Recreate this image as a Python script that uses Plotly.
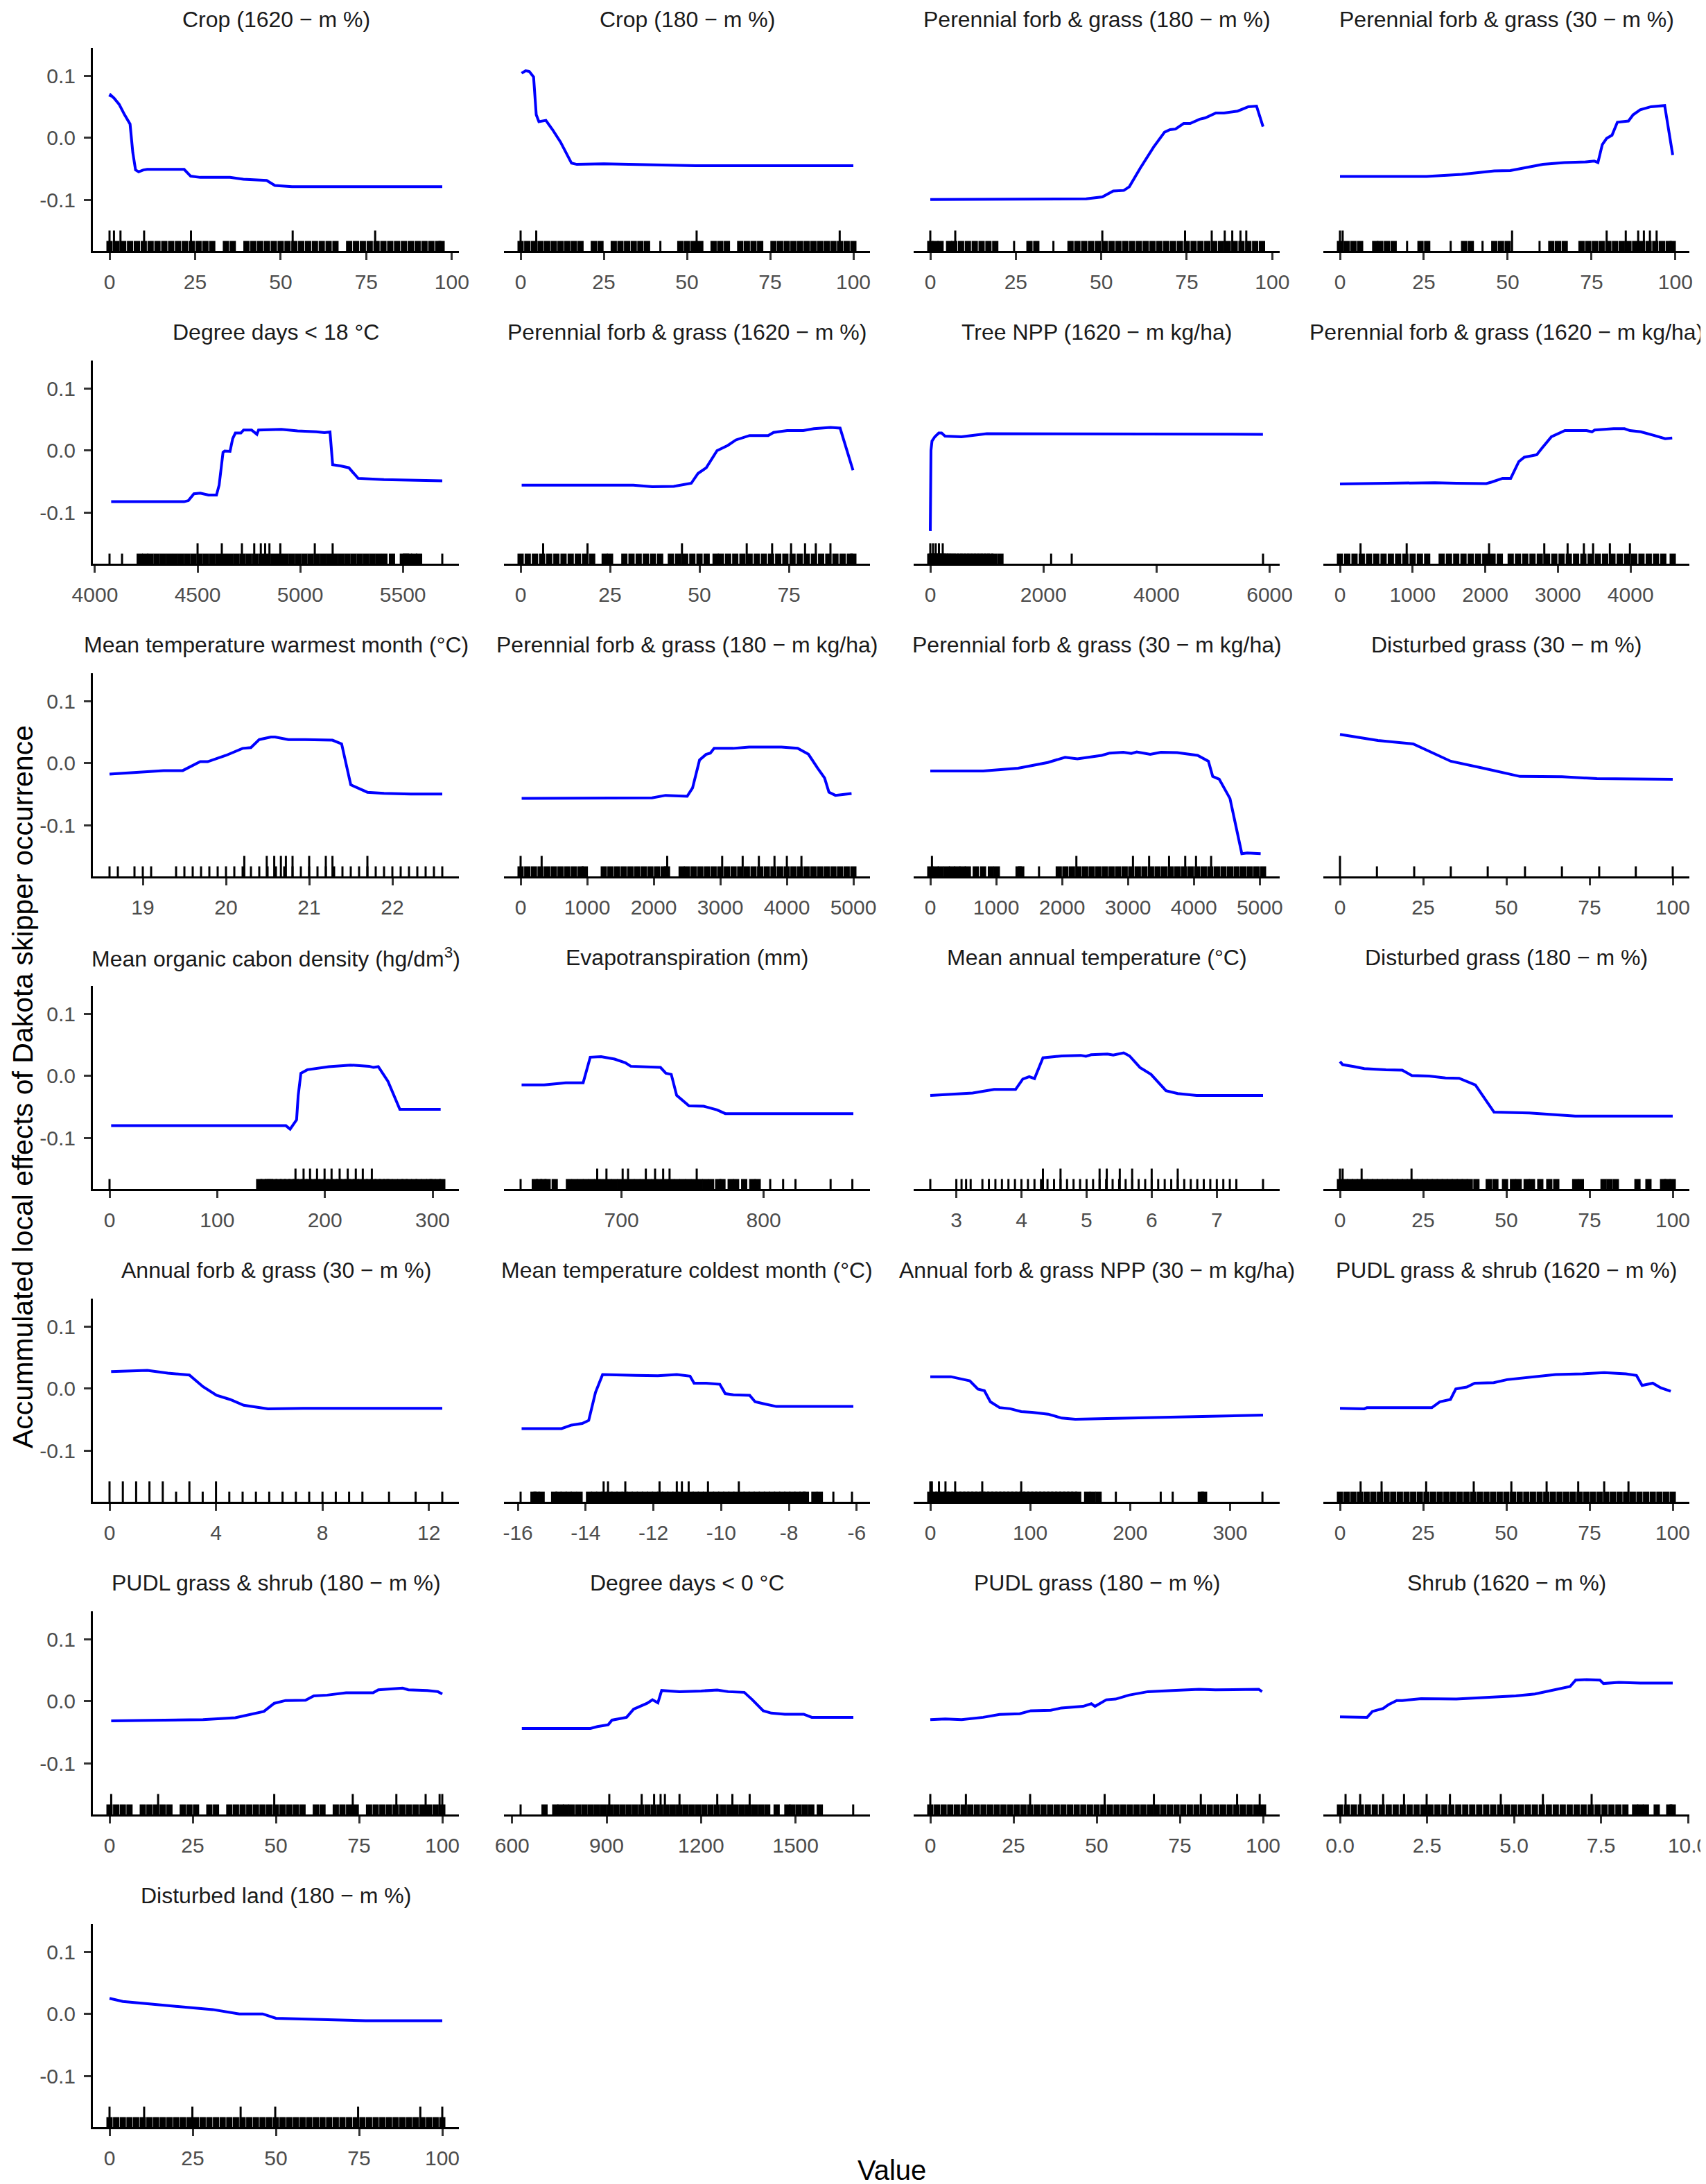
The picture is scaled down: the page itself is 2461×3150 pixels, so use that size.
import plotly.graph_objects as go

W, H = 2461, 3150

panel_titles = [
    "Crop (1620 − m %)", "Crop (180 − m %)", "Perennial forb & grass (180 − m %)", "Perennial forb & grass (30 − m %)",
    "Degree days < 18 °C", "Perennial forb & grass (1620 − m %)", "Tree NPP (1620 − m kg/ha)", "Perennial forb & grass (1620 − m kg/ha)",
    "Mean temperature warmest month (°C)", "Perennial forb & grass (180 − m kg/ha)", "Perennial forb & grass (30 − m kg/ha)", "Disturbed grass (30 − m %)",
    "Mean organic cabon density (hg/dm<sup>3</sup>)", "Evapotranspiration (mm)", "Mean annual temperature (°C)", "Disturbed grass (180 − m %)",
    "Annual forb & grass (30 − m %)", "Mean temperature coldest month (°C)", "Annual forb & grass NPP (30 − m kg/ha)", "PUDL grass & shrub (1620 − m %)",
    "PUDL grass & shrub (180 − m %)", "Degree days < 0 °C", "PUDL grass (180 − m %)", "Shrub (1620 − m %)",
    "Disturbed land (180 − m %)",
]

x_tick_values = [
    [0, 25, 50, 75, 100], [0, 25, 50, 75, 100], [0, 25, 50, 75, 100], [0, 25, 50, 75, 100],
    [4000, 4500, 5000, 5500], [0, 25, 50, 75], [0, 2000, 4000, 6000], [0, 1000, 2000, 3000, 4000],
    [19, 20, 21, 22], [0, 1000, 2000, 3000, 4000, 5000], [0, 1000, 2000, 3000, 4000, 5000], [0, 25, 50, 75, 100],
    [0, 100, 200, 300], [700, 800], [3, 4, 5, 6, 7], [0, 25, 50, 75, 100],
    [0, 4, 8, 12], [-16, -14, -12, -10, -8, -6], [0, 100, 200, 300], [0, 25, 50, 75, 100],
    [0, 25, 50, 75, 100], [600, 900, 1200, 1500], [0, 25, 50, 75, 100], [0.0, 2.5, 5.0, 7.5, 10.0],
    [0, 25, 50, 75, 100],
]
x_tick_labels = [
    ["0", "25", "50", "75", "100"], ["0", "25", "50", "75", "100"], ["0", "25", "50", "75", "100"], ["0", "25", "50", "75", "100"],
    ["4000", "4500", "5000", "5500"], ["0", "25", "50", "75"], ["0", "2000", "4000", "6000"], ["0", "1000", "2000", "3000", "4000"],
    ["19", "20", "21", "22"], ["0", "1000", "2000", "3000", "4000", "5000"], ["0", "1000", "2000", "3000", "4000", "5000"], ["0", "25", "50", "75", "100"],
    ["0", "100", "200", "300"], ["700", "800"], ["3", "4", "5", "6", "7"], ["0", "25", "50", "75", "100"],
    ["0", "4", "8", "12"], ["-16", "-14", "-12", "-10", "-8", "-6"], ["0", "100", "200", "300"], ["0", "25", "50", "75", "100"],
    ["0", "25", "50", "75", "100"], ["600", "900", "1200", "1500"], ["0", "25", "50", "75", "100"], ["0.0", "2.5", "5.0", "7.5", "10.0"],
    ["0", "25", "50", "75", "100"],
]

y_tick_values = [-0.1, 0.0, 0.1]
y_tick_labels = ["-0.1", "0.0", "0.1"]

# ---------------- ALE curves and rug observations ----------------
p01_x = [0, 0.3, 1.3, 2.8, 4.4, 5.7, 6.0, 6.8, 7.6, 8.5, 9.9, 11, 21.8, 23.7, 26.5, 35.2, 39.1, 45.9, 48.3, 53.3, 97.2]
p01_y = [0.066, 0.069, 0.064, 0.054, 0.037, 0.024, 0.022, -0.024, -0.052, -0.055, -0.052, -0.051, -0.051, -0.062, -0.064, -0.064, -0.067, -0.069, -0.077, -0.079, -0.079]
p01_rug = [0, 2, 4, 6, 8, 10, 12, 14, 16, 18, 20, 22, 24, 26, 28, 30, 34, 36, 40, 42, 44, 46, 48, 50, 52, 54, 56, 58, 60, 62, 64, 66, 70, 72, 74, 76, 78, 80, 82, 84, 86, 88, 90, 92, 94, 96, 97]
p01_tall = [0, 1.3, 3.2, 10.1, 23.8, 53.5, 77.6]

p02_x = [0.3, 1.5, 2.6, 3.9, 4.7, 5.5, 7.6, 9.6, 12, 15.3, 16.9, 25, 52.6, 100]
p02_y = [0.104, 0.108, 0.107, 0.098, 0.037, 0.026, 0.028, 0.013, -0.007, -0.041, -0.043, -0.042, -0.045, -0.045]
p02_rug = [0, 2, 4, 6, 8, 10, 12, 14, 16, 18, 22, 24, 28, 30, 32, 34, 36, 38, 42, 48, 50, 52, 54, 58, 60, 62, 66, 68, 70, 72, 76, 78, 80, 82, 84, 86, 88, 90, 92, 94, 96, 98, 100]
p02_tall = [0, 4.7, 52.9, 95.9]

p03_x = [0, 45.6, 50.3, 53.5, 56.6, 58.2, 61.4, 65.3, 68.5, 70.1, 71.7, 74.1, 76, 78.8, 80.4, 83.5, 85.9, 88.3, 89.9, 93, 95.4, 97.3]
p03_y = [-0.0996, -0.0985, -0.0955, -0.086, -0.085, -0.079, -0.049, -0.015, 0.009, 0.013, 0.014, 0.023, 0.023, 0.030, 0.032, 0.040, 0.040, 0.042, 0.043, 0.050, 0.051, 0.018]
p03_rug = [0, 1.5, 3, 5.5, 7, 9, 11, 13, 15, 17, 19, 24.5, 29, 31, 36, 41, 43, 45, 47, 49, 51, 53, 55, 57, 59, 61, 63, 65, 67, 69, 71, 73, 75, 77, 79, 81, 83, 85, 87, 89, 91, 93, 95, 97]
p03_tall = [0, 7.3, 50.3, 74.5, 82.3, 86.1, 88.3, 90.7, 92.4]

p04_x = [0, 25.8, 36.3, 46, 50.8, 60.5, 66.9, 73.4, 75.8, 76.9, 78.2, 79.5, 81.1, 82.7, 86.0, 87.4, 89.5, 92.7, 96.8, 99.2]
p04_y = [-0.0625, -0.0625, -0.059, -0.0535, -0.053, -0.043, -0.040, -0.039, -0.0375, -0.040, -0.011, -0.001, 0.004, 0.025, 0.027, 0.037, 0.045, 0.050, 0.052, -0.028]
p04_rug = [0, 2, 4, 6, 10.5, 12, 14, 16, 20, 24, 26, 33, 37, 39, 42.5, 46, 48, 50, 59.5, 63, 65, 67, 72, 74, 76, 78, 80, 82, 84, 86, 88, 90, 92, 94, 96, 98, 99.2]
p04_tall = [0, 0.8, 51.3, 79.5, 85.2, 88.9, 90.6, 92.4, 94.4]

p05_x = [4079, 4434, 4455, 4482, 4513, 4553, 4592, 4605, 4624, 4632, 4658, 4671, 4684, 4711, 4724, 4763, 4789, 4797, 4908, 4987, 5079, 5118, 5145, 5158, 5197, 5237, 5282, 5408, 5692]
p05_y = [-0.0827, -0.0827, -0.081, -0.070, -0.069, -0.072, -0.072, -0.056, -0.003, -0.001, -0.0015, 0.019, 0.028, 0.028, 0.033, 0.033, 0.026, 0.033, 0.034, 0.0316, 0.030, 0.0286, 0.0297, -0.023, -0.025, -0.028, -0.045, -0.047, -0.049]
p05_rug = [4071, 4132, 4218, 4245, 4270, 4300, 4330, 4360, 4390, 4420, 4450, 4480, 4510, 4540, 4570, 4600, 4630, 4660, 4690, 4720, 4750, 4780, 4810, 4840, 4870, 4900, 4930, 4960, 4990, 5020, 5050, 5080, 5110, 5140, 5170, 5200, 5230, 5260, 5290, 5320, 5350, 5380, 5410, 5447, 5500, 5515, 5530, 5555, 5579, 5692]
p05_tall = [4500, 4618, 4716, 4776, 4808, 4829, 4850, 4903, 5071, 5158]

p06_x = [0.3, 31.5, 36.8, 42.8, 47.7, 49.6, 51.9, 54.9, 57.9, 60.2, 64, 69.2, 70.7, 74.5, 79, 82, 86.6, 89.3, 90.3, 92.9]
p06_y = [-0.056, -0.056, -0.0586, -0.058, -0.053, -0.037, -0.028, -0.0004, 0.008, 0.017, 0.024, 0.024, 0.029, 0.032, 0.032, 0.035, 0.037, 0.036, 0.017, -0.032]
p06_rug = [0, 2, 4, 6, 8, 10, 12, 14, 16, 18, 20, 23.5, 25, 29, 31, 33, 35, 37, 39, 42, 44, 46, 48, 50, 52, 54.5, 56, 58, 60, 62, 64, 66, 68, 70, 72, 74, 76, 78, 80, 82, 84, 86, 88, 90, 92, 93]
p06_tall = [6.3, 18.7, 45.1, 63.2, 70.3, 75.6, 79.5, 82.5, 86.6]

p07_x = [0, 5, 12, 30, 80, 150, 200, 260, 550, 1000, 5880]
p07_y = [-0.13, -0.06, 0.0, 0.015, 0.022, 0.028, 0.028, 0.023, 0.022, 0.027, 0.026]
p07_rug = [0, 20, 40, 60, 80, 100, 130, 160, 190, 220, 260, 300, 350, 400, 460, 520, 580, 640, 700, 760, 820, 880, 940, 1000, 1060, 1130, 1240, 2136, 2500, 5882]
p07_tall = [0, 48, 96, 153, 220]

p08_x = [0, 858, 1306, 1604, 2014, 2089, 2238, 2350, 2462, 2537, 2708, 2783, 2910, 3096, 3394, 3469, 3506, 3767, 3916, 3991, 4140, 4327, 4476, 4573]
p08_y = [-0.054, -0.053, -0.052, -0.053, -0.0534, -0.051, -0.045, -0.045, -0.018, -0.011, -0.007, 0.004, 0.022, 0.032, 0.032, 0.030, 0.033, 0.035, 0.035, 0.032, 0.030, 0.024, 0.019, 0.020]
p08_rug = [0, 100, 200, 300, 400, 500, 600, 700, 800, 900, 1000, 1100, 1200, 1400, 1500, 1600, 1700, 1800, 1900, 2000, 2100, 2200, 2350, 2450, 2550, 2650, 2750, 2850, 2950, 3050, 3150, 3250, 3350, 3450, 3550, 3650, 3750, 3850, 3950, 4050, 4150, 4250, 4350, 4450, 4580]
p08_tall = [283, 918, 2052, 2812, 3133, 3357, 3484, 3715, 3991]

p09_x = [18.6, 19.25, 19.48, 19.69, 19.78, 20.0, 20.2, 20.3, 20.4, 20.54, 20.59, 20.75, 20.95, 21.28, 21.39, 21.5, 21.7, 21.9, 22.22, 22.6]
p09_y = [-0.0177, -0.012, -0.012, 0.0023, 0.0023, 0.0125, 0.0238, 0.025, 0.038, 0.042, 0.042, 0.038, 0.038, 0.037, 0.031, -0.035, -0.047, -0.0487, -0.050, -0.050]
p09_rug = [18.6, 18.7, 18.9, 19.0, 19.1, 19.4, 19.5, 19.6, 19.7, 19.8, 19.9, 20.0, 20.1, 20.2, 20.3, 20.4, 20.5, 20.6, 20.7, 20.8, 20.9, 21.0, 21.1, 21.2, 21.3, 21.4, 21.5, 21.6, 21.7, 21.8, 21.9, 22.0, 22.1, 22.2, 22.3, 22.4, 22.5, 22.6]
p09_tall = [20.22, 20.49, 20.58, 20.66, 20.72, 20.8, 21.0, 21.2, 21.28, 21.7]

p10_x = [16, 1247, 1976, 2179, 2503, 2584, 2689, 2786, 2851, 2908, 3191, 3434, 3920, 4163, 4325, 4463, 4568, 4633, 4730, 4973]
p10_y = [-0.057, -0.057, -0.056, -0.052, -0.0535, -0.040, 0.005, 0.014, 0.0162, 0.024, 0.0238, 0.026, 0.026, 0.024, 0.0143, -0.008, -0.024, -0.047, -0.052, -0.049]
p10_rug = [0, 100, 200, 300, 400, 500, 600, 700, 800, 900, 965, 1250, 1350, 1450, 1550, 1650, 1750, 1850, 1950, 2050, 2150, 2200, 2420, 2500, 2600, 2700, 2800, 2900, 3000, 3100, 3200, 3300, 3400, 3500, 3600, 3700, 3800, 3900, 4000, 4100, 4200, 4300, 4400, 4500, 4600, 4700, 4800, 4900, 5000]
p10_tall = [0, 316, 2203, 3029, 3337, 3580, 3815, 4001, 4220]

p11_x = [0, 802, 1333, 1783, 2045, 2233, 2601, 2724, 2928, 3051, 3133, 3338, 3501, 3747, 4057, 4155, 4221, 4286, 4385, 4548, 4728, 4810, 5014]
p11_y = [-0.0128, -0.0128, -0.0083, 0.001, 0.0094, 0.0068, 0.0125, 0.0162, 0.0174, 0.0155, 0.018, 0.0143, 0.0174, 0.017, 0.0125, 0.0068, 0.003, -0.0215, -0.026, -0.057, -0.146, -0.145, -0.146]
p11_rug = [0, 80, 160, 250, 330, 410, 490, 570, 690, 800, 920, 1010, 1340, 1380, 1650, 1950, 2050, 2150, 2250, 2350, 2450, 2550, 2650, 2750, 2850, 2950, 3050, 3150, 3250, 3350, 3450, 3550, 3650, 3750, 3850, 3950, 4050, 4150, 4250, 4350, 4450, 4550, 4650, 4750, 4850, 4950, 5050]
p11_tall = [25, 2217, 3076, 3321, 3624, 3869, 4033, 4262]

p12_x = [0, 11.4, 22, 33.3, 43.1, 54.1, 66.7, 77.2, 100]
p12_y = [0.0464, 0.0366, 0.031, 0.003, -0.0083, -0.0215, -0.022, -0.025, -0.026]
p12_rug = [11.1, 22.3, 33.3, 44.4, 55.6, 66.7, 77.9, 88.9, 100]
p12_tall = [0]

p13_x = [1.5, 163.8, 167.7, 173.7, 175.2, 177.7, 183.7, 198.7, 203.7, 223.7, 241.1, 245.1, 249.6, 258.6, 269.6, 307.5]
p13_y = [-0.0805, -0.0805, -0.086, -0.071, -0.032, 0.0041, 0.0098, 0.0128, 0.0147, 0.0173, 0.0154, 0.0135, 0.0147, -0.009, -0.054, -0.054]
p13_rug = [0, 139, 143, 147, 149, 153, 157, 161, 165, 169, 173, 177, 181, 185, 189, 193, 197, 201, 205, 209, 213, 217, 221, 225, 229, 233, 237, 241, 245, 249, 253, 257, 260, 265, 270, 274, 278, 283, 287, 292, 297, 300, 305, 309]
p13_tall = [172.7, 180.2, 186.2, 192.7, 199.7, 206.2, 213.7, 221.2, 228.7, 235.2, 243.6]

p14_x = [629.7, 645.6, 660.8, 673, 678, 685.6, 695.1, 702.7, 706.5, 717.9, 727.4, 731.2, 735, 738.8, 742.6, 747.5, 757.8, 763.5, 767.3, 773, 863.1]
p14_y = [-0.0147, -0.0147, -0.0113, -0.0113, 0.030, 0.031, 0.027, 0.021, 0.0154, 0.0147, 0.0135, 0.0041, 0.0023, -0.0316, -0.039, -0.0485, -0.049, -0.053, -0.055, -0.061, -0.061]
p14_rug = [629, 639, 642, 645, 648, 653, 663, 667, 671, 675, 679, 683, 687, 691, 695, 699, 703, 707, 711, 715, 719, 723, 727, 731, 735, 739, 743, 747, 751, 755, 759, 763, 768, 771, 776.8, 780.6, 786.3, 792, 795.8, 804.6, 813.7, 822.4, 847.1, 862.4]
p14_tall = [682.9, 689.4, 700.8, 704.6, 717.1, 723.6, 729.3, 733.8, 752.9]

p15_x = [2.6, 3.25, 3.58, 3.91, 4.02, 4.12, 4.2, 4.33, 4.62, 4.91, 4.99, 5.07, 5.32, 5.41, 5.57, 5.66, 5.82, 5.99, 6.22, 6.4, 6.69, 7.71]
p15_y = [-0.0316, -0.0278, -0.022, -0.022, -0.0053, -0.0015, -0.0045, 0.029, 0.032, 0.033, 0.0316, 0.034, 0.035, 0.0335, 0.037, 0.032, 0.0135, 0.0023, -0.024, -0.0286, -0.0316, -0.0316]
p15_rug = [2.6, 3.0, 3.08, 3.15, 3.22, 3.4, 3.5, 3.6, 3.7, 3.8, 3.9, 4.0, 4.1, 4.2, 4.3, 4.4, 4.5, 4.6, 4.7, 4.8, 4.9, 5.0, 5.1, 5.2, 5.3, 5.4, 5.5, 5.6, 5.7, 5.8, 5.9, 6.0, 6.1, 6.2, 6.3, 6.4, 6.5, 6.6, 6.7, 6.8, 6.9, 7.0, 7.1, 7.2, 7.3, 7.71]
p15_tall = [4.33, 4.6, 5.2, 5.31, 5.51, 5.7, 6.0, 6.4]

p16_x = [0, 0.8, 4.1, 7.3, 13.8, 18.7, 21.6, 26.8, 31.7, 35.8, 40.7, 46.3, 56.9, 70.7, 100]
p16_y = [0.023, 0.018, 0.015, 0.0117, 0.0098, 0.009, 0.0004, -0.0004, -0.0034, -0.004, -0.0147, -0.0586, -0.06, -0.065, -0.065]
p16_rug = [0, 1.5, 3, 4.5, 6, 7.5, 9, 10.5, 12, 13.5, 15, 16.5, 18, 19.5, 21, 22.5, 24, 25.5, 27, 28.5, 30, 31.5, 33, 34.5, 36, 37.5, 39, 41, 44.7, 46.7, 49.6, 52, 53.7, 56.1, 57.7, 60.2, 62.9, 65, 70.7, 72.4, 79.2, 81, 82.9, 89.4, 92.7, 97.1, 98.4, 100]
p16_tall = [0, 0.8, 6.5, 21.5]

p17_x = [0.06, 0.97, 1.42, 2.19, 3.0, 3.51, 4.02, 4.53, 5.04, 5.95, 7.27, 12.5]
p17_y = [0.0274, 0.028, 0.0293, 0.0248, 0.0218, 0.003, -0.0109, -0.0177, -0.027, -0.0327, -0.032, -0.032]
p17_rug = [2.5, 3.5, 4.5, 5, 5.5, 6, 6.5, 7, 7.5, 8, 8.5, 9, 9.5, 10.5, 11.5, 12.5]
p17_tall = [0, 0.5, 1, 1.5, 2, 3, 4]

p18_x = [-15.89, -14.71, -14.42, -14.1, -13.91, -13.71, -13.5, -13.15, -12.51, -11.87, -11.31, -10.92, -10.8, -10.44, -10.04, -9.88, -9.64, -9.16, -9.0, -8.76, -8.37, -6.1]
p18_y = [-0.0647, -0.0647, -0.059, -0.0564, -0.0515, -0.0064, 0.0226, 0.0218, 0.021, 0.0207, 0.0226, 0.020, 0.0086, 0.0086, 0.0068, -0.0083, -0.0102, -0.0109, -0.0214, -0.0244, -0.029, -0.029]
p18_rug = [-15.92, -15.54, -15.45, -15.3, -14.93, -14.8, -14.65, -14.5, -14.35, -14.18, -13.9, -13.75, -13.6, -13.45, -13.3, -13.15, -13.0, -12.85, -12.7, -12.55, -12.4, -12.25, -12.1, -11.95, -11.8, -11.65, -11.5, -11.35, -11.2, -11.05, -10.9, -10.75, -10.6, -10.45, -10.3, -10.15, -10.0, -9.85, -9.7, -9.55, -9.4, -9.25, -9.1, -8.95, -8.8, -8.65, -8.5, -8.35, -8.2, -8.05, -7.9, -7.75, -7.6, -7.5, -7.25, -7.09, -6.69, -6.14]
p18_tall = [-13.47, -13.34, -12.83, -11.82, -11.31, -11.16, -10.96, -10.39, -9.48]

p19_x = [0, 20.6, 34.1, 39.5, 47.6, 54.1, 60.1, 69.3, 80.1, 91, 101.8, 118, 131.6, 145.1, 333]
p19_y = [0.019, 0.019, 0.0143, 0.0124, -0.0008, -0.0034, -0.0214, -0.0308, -0.0327, -0.0372, -0.0383, -0.0414, -0.0477, -0.0496, -0.0429]
p19_rug = [0, 4, 8, 12, 16, 20, 24, 28, 32, 36, 40, 44, 48, 52, 56, 60, 64, 68, 72, 76, 80, 84, 88, 92, 96, 100, 104, 108, 112, 116, 120, 124, 128, 132, 136, 140, 144, 148, 157, 162.5, 168.4, 185.7, 230.6, 242.6, 270.7, 274, 332.4]
p19_tall = [0, 1.6, 8.7, 15.2, 24.9, 52, 91]

dense_pct_obs = [0, 2, 4, 6, 8, 10, 12, 14, 16, 18, 20, 22, 24, 26, 28, 30, 32, 34, 36, 38, 40, 42, 44, 46, 48, 50, 52, 54, 56, 58, 60, 62, 64, 66, 68, 70, 72, 74, 76, 78, 80, 82, 84, 86, 88, 90, 92, 94, 96, 98, 100]

p20_x = [0, 7.3, 8.1, 27.6, 30, 33.2, 34.8, 38.1, 40.5, 46.2, 50.2, 57.5, 64.8, 72.9, 79.4, 85.9, 89.1, 90.8, 94, 96.4, 99.4]
p20_y = [-0.032, -0.0327, -0.031, -0.031, -0.0214, -0.0177, -0.0008, 0.0023, 0.0086, 0.0094, 0.0143, 0.018, 0.0226, 0.0237, 0.0256, 0.0237, 0.021, 0.0049, 0.0086, 0.0011, -0.0045]
p20_rug = dense_pct_obs
p20_tall = [6.2, 12.5, 25.9, 40.2, 51.5, 62.1, 71.6, 79.4, 86.7]

p21_x = [0.5, 17.5, 28.1, 37.8, 46.4, 49.5, 52.9, 58.9, 61.4, 65.4, 71.1, 79.2, 80.8, 88.1, 89.8, 95.5, 98.7, 100]
p21_y = [-0.0316, -0.0308, -0.0297, -0.0267, -0.0165, -0.0034, 0.0011, 0.0015, 0.0086, 0.0098, 0.0135, 0.0135, 0.0184, 0.021, 0.0184, 0.0173, 0.0154, 0.0117]
p21_rug = [0, 2, 4, 6, 10, 12, 14, 16, 18, 22, 24, 26, 30, 32, 36, 38, 40, 42, 44, 46, 48, 50, 52, 54, 56, 58, 62, 64, 68, 70, 72, 74, 78, 80, 82, 84, 86, 88, 90, 92, 94, 96, 98, 100]
p21_tall = [0.5, 14.6, 49.5, 73.1, 86.2, 95, 99.2, 100]

p22_x = [630.9, 848.6, 870.9, 905.2, 917.2, 963.5, 985.7, 1011.4, 1028.6, 1045.7, 1062.9, 1074.9, 1131.5, 1200, 1251.4, 1285.7, 1337.1, 1362.9, 1397.2, 1422.9, 1465.8, 1525.8, 1551.5, 1683.5]
p22_y = [-0.044, -0.044, -0.041, -0.038, -0.0305, -0.026, -0.0128, -0.0071, -0.0034, 0.0023, -0.0026, 0.0173, 0.0154, 0.0165, 0.018, 0.0154, 0.0143, 0.0023, -0.0154, -0.0192, -0.021, -0.021, -0.026, -0.026]
p22_rug = [627, 703, 737, 754, 771, 789, 810, 830, 850, 870, 890, 910, 930, 950, 970, 990, 1010, 1030, 1050, 1070, 1090, 1110, 1130, 1150, 1170, 1190, 1210, 1230, 1250, 1270, 1290, 1310, 1330, 1350, 1370, 1390, 1410, 1440, 1474, 1490, 1510, 1530, 1550, 1577, 1683]
p22_tall = [908.6, 1011.4, 1050.9, 1071.5, 1085.2, 1131.5, 1251.4, 1299.4, 1354.3]

p23_x = [0, 4.5, 9.4, 15.9, 20.8, 26.9, 30.2, 36.2, 39.4, 45.9, 48.4, 49.5, 52.9, 55.7, 59.7, 65.4, 72.7, 80.8, 85.7, 98.7, 99.7]
p23_y = [-0.0297, -0.0286, -0.0297, -0.026, -0.0214, -0.0203, -0.0154, -0.0147, -0.0109, -0.0083, -0.0041, -0.0083, 0.0023, 0.0034, 0.0098, 0.0154, 0.0173, 0.0192, 0.0184, 0.0192, 0.0154]
p23_rug = dense_pct_obs
p23_tall = [0, 10.7, 30, 52.4, 67.2, 81.3, 92.2, 99]

p24_x = [0, 0.78, 0.93, 1.24, 1.4, 1.63, 1.79, 2.33, 3.34, 4.12, 4.74, 5.05, 5.6, 5.91, 6.3, 6.61, 6.77, 7.08, 7.47, 7.57, 8.01, 8.63, 9.56]
p24_y = [-0.0252, -0.026, -0.0165, -0.0117, -0.0053, 0.0011, 0.0011, 0.0041, 0.0034, 0.006, 0.0071, 0.0086, 0.0117, 0.0154, 0.021, 0.0237, 0.034, 0.0348, 0.034, 0.0286, 0.0304, 0.0293, 0.0293]
p24_rug = [0, 0.2, 0.4, 0.6, 0.8, 1.0, 1.2, 1.4, 1.6, 1.8, 2.0, 2.2, 2.4, 2.6, 2.8, 3.0, 3.2, 3.4, 3.6, 3.8, 4.0, 4.2, 4.4, 4.6, 4.8, 5.0, 5.2, 5.4, 5.6, 5.8, 6.0, 6.2, 6.4, 6.6, 6.8, 7.0, 7.2, 7.4, 7.6, 7.8, 8.0, 8.2, 8.48, 8.63, 8.79, 9.1, 9.46, 9.56]
p24_tall = [0.16, 0.58, 1.24, 1.84, 2.49, 3.16, 4.62, 5.83, 7.23]

p25_x = [0, 4, 12, 23, 31, 39, 46, 50, 64, 77, 100]
p25_y = [0.025, 0.020, 0.016, 0.011, 0.007, 0.0, 0.0, -0.007, -0.009, -0.011, -0.011]
p25_rug = dense_pct_obs
p25_tall = [0, 10.4, 24.9, 39.4, 49.8, 74.7, 93.4, 100]

curves_x = [p01_x, p02_x, p03_x, p04_x, p05_x, p06_x, p07_x, p08_x, p09_x, p10_x, p11_x, p12_x, p13_x,
            p14_x, p15_x, p16_x, p17_x, p18_x, p19_x, p20_x, p21_x, p22_x, p23_x, p24_x, p25_x]
curves_y = [p01_y, p02_y, p03_y, p04_y, p05_y, p06_y, p07_y, p08_y, p09_y, p10_y, p11_y, p12_y, p13_y,
            p14_y, p15_y, p16_y, p17_y, p18_y, p19_y, p20_y, p21_y, p22_y, p23_y, p24_y, p25_y]
rugs = [p01_rug, p02_rug, p03_rug, p04_rug, p05_rug, p06_rug, p07_rug, p08_rug, p09_rug, p10_rug, p11_rug, p12_rug, p13_rug,
        p14_rug, p15_rug, p16_rug, p17_rug, p18_rug, p19_rug, p20_rug, p21_rug, p22_rug, p23_rug, p24_rug, p25_rug]
rugs_tall = [p01_tall, p02_tall, p03_tall, p04_tall, p05_tall, p06_tall, p07_tall, p08_tall, p09_tall, p10_tall, p11_tall, p12_tall, p13_tall,
             p14_tall, p15_tall, p16_tall, p17_tall, p18_tall, p19_tall, p20_tall, p21_tall, p22_tall, p23_tall, p24_tall, p25_tall]

# ---------------- layout / style ----------------
FONT = "Liberation Sans, Arial, Helvetica, sans-serif"
col_left = [126, 719, 1310, 1901]
panel_w = 528
row_top0, row_step, panel_h = 61, 451, 293
y_lo, y_hi = -0.1827, 0.145
short_len, tall_len = 0.0162, 0.033
# panels whose rug reads as a solid black band in the reference (style only)
solid_rug = [True, True, True, True, True, True, True, True, False, True, True, False, True,
             True, False, True, False, True, True, True, True, True, True, True, True]
dense_gap_px = 16
dense_width, thin_width = 9, 3


def segs(values, y0, y1):
    xs, ys = [], []
    for v in values:
        xs += [v, v, None]
        ys += [y0, y1, None]
    return xs, ys


fig = go.Figure()
layout = dict(
    width=W, height=H, autosize=False,
    margin=dict(l=0, r=0, t=0, b=0, autoexpand=False),
    paper_bgcolor="white", plot_bgcolor="white",
    showlegend=False, font=dict(family=FONT),
)
annotations = []

for i in range(len(panel_titles)):
    r, c = divmod(i, 4)
    k = i + 1
    sx = "" if k == 1 else str(k)
    left = col_left[c]
    top = row_top0 + row_step * r
    xd = [left / W, (left + panel_w) / W]
    yd = [1 - (top + panel_h) / H, 1 - top / H]

    all_x = list(curves_x[i]) + list(rugs[i]) + list(rugs_tall[i])
    lo, hi = min(all_x), max(all_x)
    pad = 0.05 * (hi - lo)
    px_per_unit = panel_w / ((hi + pad) - (lo - pad))

    srt = sorted(rugs[i])
    dense_v, thin_v = [], []
    for j, v in enumerate(srt):
        gaps = []
        if j > 0:
            gaps.append(v - srt[j - 1])
        if j < len(srt) - 1:
            gaps.append(srt[j + 1] - v)
        g = min(gaps) * px_per_unit if gaps else 1e9
        if solid_rug[i] and g < dense_gap_px:
            dense_v.append(v)
        else:
            thin_v.append(v)

    for vals, wdt in ((dense_v, dense_width), (thin_v, thin_width)):
        if vals:
            rx, ry = segs(vals, y_lo, y_lo + short_len)
            fig.add_trace(go.Scatter(x=rx, y=ry, mode="lines", line=dict(color="black", width=wdt),
                                     xaxis="x" + sx, yaxis="y" + sx, hoverinfo="skip"))
    tx, ty = segs(rugs_tall[i], y_lo, y_lo + tall_len)
    fig.add_trace(go.Scatter(x=tx, y=ty, mode="lines", line=dict(color="black", width=thin_width),
                             xaxis="x" + sx, yaxis="y" + sx, hoverinfo="skip"))
    fig.add_trace(go.Scatter(x=curves_x[i], y=curves_y[i], mode="lines",
                             line=dict(color="#0000FF", width=4),
                             xaxis="x" + sx, yaxis="y" + sx))

    layout["xaxis" + sx] = dict(
        domain=xd, anchor="y" + sx, range=[lo - pad, hi + pad], automargin=False,
        showgrid=False, zeroline=False, showline=True, linecolor="black", linewidth=3,
        ticks="outside", ticklen=10, tickwidth=3, tickcolor="#333333",
        tickmode="array", tickvals=x_tick_values[i], ticktext=x_tick_labels[i],
        tickfont=dict(size=30, color="#4D4D4D", family=FONT), ticklabelstandoff=6,
        fixedrange=True,
    )
    if c == 0:
        layout["yaxis" + sx] = dict(
            domain=yd, anchor="x" + sx, range=[y_lo, y_hi], automargin=False,
            showgrid=False, zeroline=False, showline=True, linecolor="black", linewidth=3,
            ticks="outside", ticklen=10, tickwidth=3, tickcolor="#333333",
            tickmode="array", tickvals=y_tick_values, ticktext=y_tick_labels,
            tickfont=dict(size=30, color="#4D4D4D", family=FONT), ticklabelstandoff=6,
            fixedrange=True,
        )
    else:
        layout["yaxis" + sx] = dict(
            domain=yd, anchor="x" + sx, range=[y_lo, y_hi], automargin=False,
            showgrid=False, zeroline=False, showline=False, showticklabels=False, ticks="",
            fixedrange=True,
        )
    annotations.append(dict(
        text=panel_titles[i], xref="paper", yref="paper",
        x=(left + panel_w / 2) / W, y=1 - (top - 41) / H,
        xanchor="center", yanchor="middle", showarrow=False,
        font=dict(size=32, color="#1A1A1A", family=FONT),
    ))

annotations.append(dict(
    text="Value", xref="paper", yref="paper", x=1278 / W, y=1 - 3122 / H,
    xanchor="center", yanchor="middle", showarrow=False,
    font=dict(size=40, color="black", family=FONT),
))
annotations.append(dict(
    text="Accummulated local effects of Dakota skipper occurrence", xref="paper", yref="paper",
    x=25 / W, y=1 - 1560 / H, xanchor="center", yanchor="middle", textangle=-90, showarrow=False,
    font=dict(size=41, color="black", family=FONT),
))
layout["annotations"] = annotations
fig.update_layout(**layout)
fig.write_html("out.html")
